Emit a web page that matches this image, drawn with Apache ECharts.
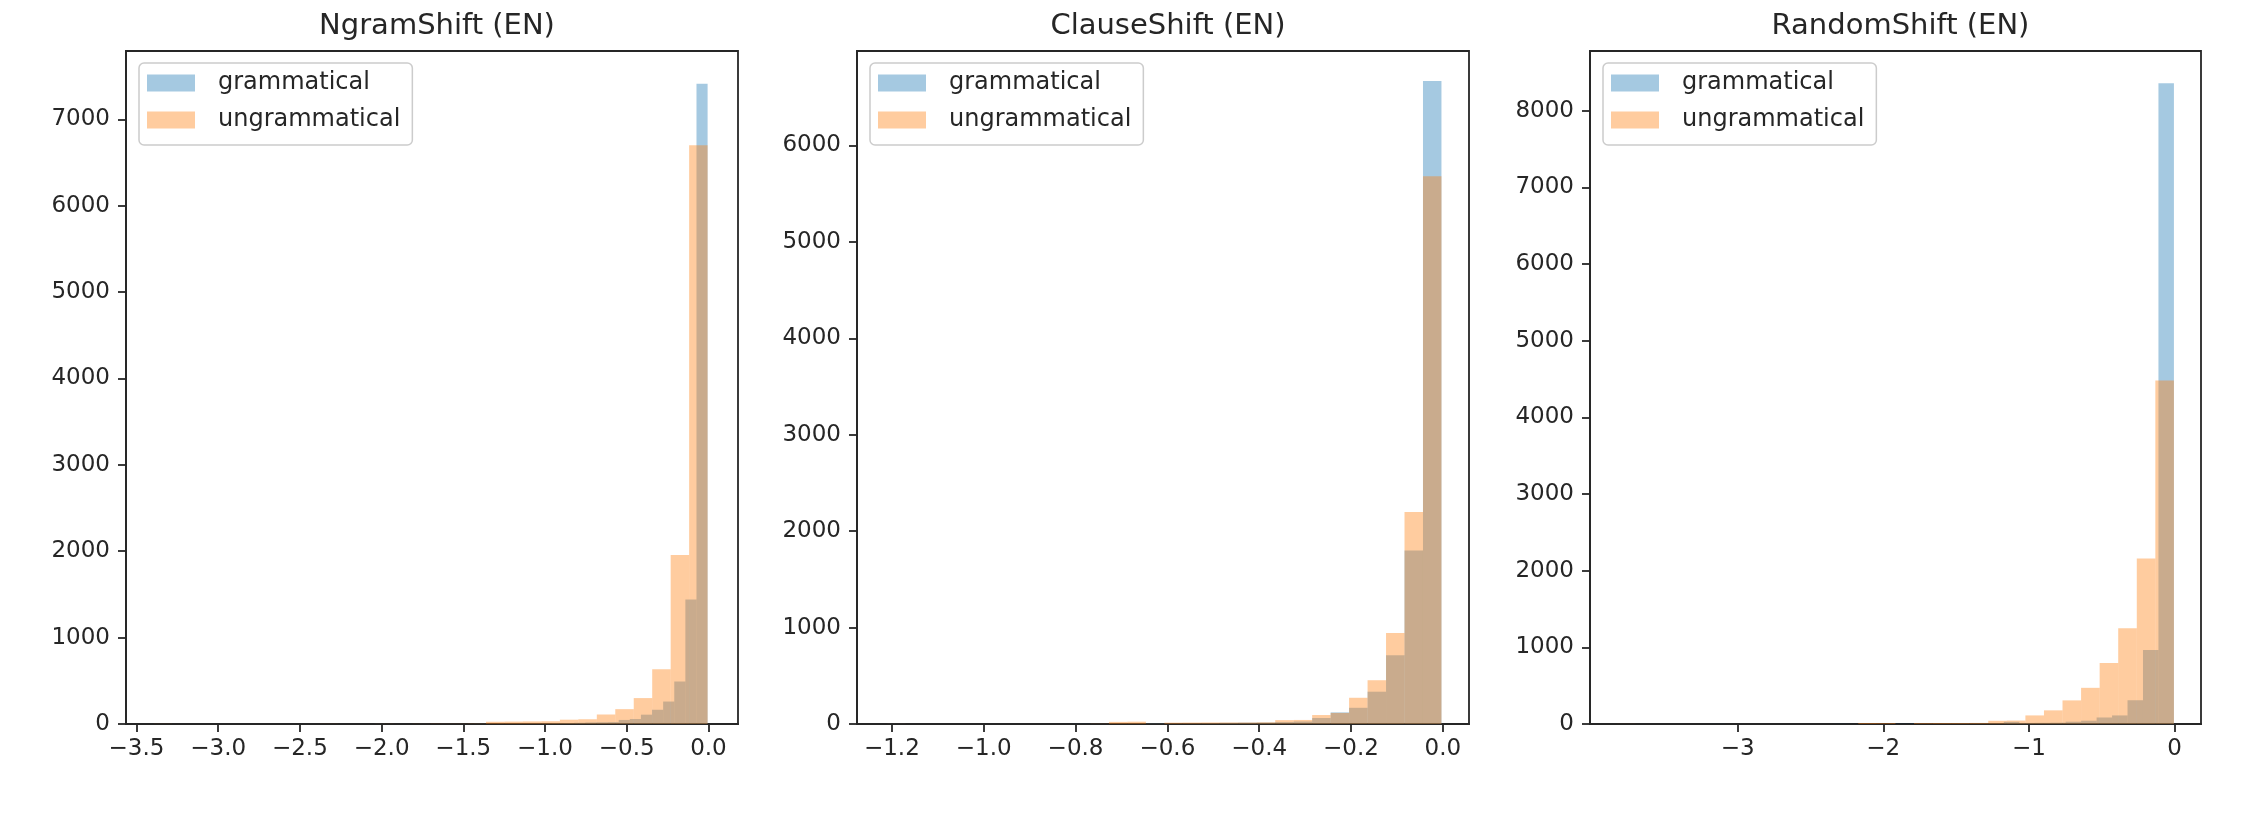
<!DOCTYPE html>
<html><head><meta charset="utf-8">
<script src="https://cdn.jsdelivr.net/npm/echarts@6/dist/echarts.min.js"></script>
<style>html,body{margin:0;padding:0;background:#fff}#chart{width:2250px;height:818px}</style>
</head><body><div id="chart"></div>
<script>
// ---------------- data ----------------
const seriesNames = ['grammatical', 'ungrammatical'];
const panelTitles = ['NgramShift (EN)', 'ClauseShift (EN)', 'RandomShift (EN)'];

// each histogram: 30 equal-width bins over [min, max]
const ngramGramRange = [-2.045, -0.005];
const ngramGramCounts = [1,0,0,0,1,0,1,1,1,2,2,3,3,4,5,6,8,10,14,18,20,22,47,58,108,165,260,492,1440,7410];
const ngramUngramRange = [-3.395, -0.005];
const ngramUngramCounts = [1,0,0,0,0,0,0,0,0,1,0,0,1,0,1,2,2,3,26,28,30,32,50,55,110,172,300,635,1955,6700];

const clauseGramRange = [-1.21, -0.003];
const clauseGramCounts = [1,0,0,0,0,0,0,0,0,0,1,1,2,3,4,5,6,8,12,14,15,20,26,62,120,168,335,712,1800,6670];
const clauseUngramRange = [-1.21, -0.003];
const clauseUngramCounts = [1,0,0,0,0,0,0,0,0,0,0,2,22,24,2,14,15,16,16,16,18,40,42,93,115,272,454,945,2200,5680];

const randomGramRange = [-3.19, -0.004];
const randomGramCounts = [1,0,0,0,0,0,0,0,1,0,0,1,1,2,2,3,4,5,8,28,14,15,17,30,43,85,112,310,965,8360];
const randomUngramRange = [-3.829, -0.004];
const randomUngramCounts = [1,0,0,0,0,0,0,0,0,0,0,0,0,13,12,0,12,13,13,14,42,45,112,178,308,472,795,1250,2160,4480];

const ngramXTicks = [-3.5, -3.0, -2.5, -2.0, -1.5, -1.0, -0.5, 0.0];
const clauseXTicks = [-1.2, -1.0, -0.8, -0.6, -0.4, -0.2, 0.0];
const randomXTicks = [-3, -2, -1, 0];
const ngramYTicks = [0, 1000, 2000, 3000, 4000, 5000, 6000, 7000];
const clauseYTicks = [0, 1000, 2000, 3000, 4000, 5000, 6000];
const randomYTicks = [0, 1000, 2000, 3000, 4000, 5000, 6000, 7000, 8000];

// ---------------- layout / style ----------------
const FONT = 'DejaVu Sans';
const TXT = '#262626';
const BLUE = 'rgba(31,119,180,0.4)';
const ORANGE = 'rgba(255,127,14,0.4)';
const panels = [
  { left: 126, width: 612, xlim: [-3.564, 0.181], ymax: 7790, xTicks: ngramXTicks, yTicks: ngramYTicks, dec: 1,
    g: [ngramGramRange, ngramGramCounts], u: [ngramUngramRange, ngramUngramCounts] },
  { left: 857, width: 612, xlim: [-1.276, 0.057], ymax: 6980, xTicks: clauseXTicks, yTicks: clauseYTicks, dec: 1,
    g: [clauseGramRange, clauseGramCounts], u: [clauseUngramRange, clauseUngramCounts] },
  { left: 1590, width: 611, xlim: [-4.014, 0.182], ymax: 8780, xTicks: randomXTicks, yTicks: randomYTicks, dec: 0,
    g: [randomGramRange, randomGramCounts], u: [randomUngramRange, randomUngramCounts] }
];
const TOP = 51, HEIGHT = 673;

function toBins(range, counts) {
  const w = (range[1] - range[0]) / counts.length;
  return counts.map((c, i) => [range[0] + i * w, range[0] + (i + 1) * w, c]);
}
function minusFmt(dec) {
  return v => (v < 0 ? '\u2212' : '') + Math.abs(v).toFixed(dec);
}
function renderBar(params, api) {
  const p0 = api.coord([api.value(0), api.value(2)]);
  const p1 = api.coord([api.value(1), 0]);
  return { type: 'rect', shape: { x: p0[0], y: p0[1], width: p1[0] - p0[0], height: p1[1] - p0[1] },
           style: { fill: api.visual('color') } };
}

const grid = [], xAxis = [], yAxis = [], series = [], title = [], legend = [];
const lineStyle = { color: TXT, width: 1.8 };
panels.forEach((p, i) => {
  grid.push({ left: p.left, top: TOP, width: p.width, height: HEIGHT, show: true,
              borderColor: TXT, borderWidth: 1.8, backgroundColor: 'transparent' });
  xAxis.push({ type: 'value', gridIndex: i, min: p.xlim[0], max: p.xlim[1],
    axisLine: { show: true, onZero: false, lineStyle },
    axisTick: { show: true, length: 8, lineStyle, customValues: p.xTicks },
    axisLabel: { customValues: p.xTicks, formatter: minusFmt(p.dec), fontSize: 23, fontFamily: FONT,
                 color: TXT, margin: 14, hideOverlap: false },
    splitLine: { show: false } });
  yAxis.push({ type: 'value', gridIndex: i, min: 0, max: p.ymax,
    axisLine: { show: true, onZero: false, lineStyle },
    axisTick: { show: true, length: 8, lineStyle, customValues: p.yTicks },
    axisLabel: { customValues: p.yTicks, formatter: v => String(Math.round(v)), fontSize: 23, fontFamily: FONT,
                 color: TXT, margin: 16, hideOverlap: false },
    splitLine: { show: false } });
  series.push({ type: 'custom', name: seriesNames[0], xAxisIndex: i, yAxisIndex: i,
    itemStyle: { color: BLUE }, renderItem: renderBar, encode: { x: [0, 1], y: 2 },
    data: toBins(p.g[0], p.g[1]) });
  series.push({ type: 'custom', name: seriesNames[1], xAxisIndex: i, yAxisIndex: i,
    itemStyle: { color: ORANGE }, renderItem: renderBar, encode: { x: [0, 1], y: 2 },
    data: toBins(p.u[0], p.u[1]) });
  title.push({ text: panelTitles[i], left: p.left + p.width / 2, top: 7, textAlign: 'center',
    textStyle: { fontSize: 29, fontWeight: 'normal', color: TXT, fontFamily: FONT } });
  legend.push({ left: p.left + 13, top: 63, orient: 'vertical', icon: 'rect',
    itemWidth: 48, itemHeight: 17, itemGap: 13, padding: [8, 12, 13, 8],
    backgroundColor: 'rgba(255,255,255,0.8)', borderColor: '#cccccc', borderWidth: 1.5, borderRadius: 5,
    selectedMode: false,
    textStyle: { fontSize: 24, color: TXT, fontFamily: FONT, padding: [0, 0, 0, 18] },
    data: [{ name: seriesNames[0], itemStyle: { color: BLUE } },
           { name: seriesNames[1], itemStyle: { color: ORANGE } }] });
});

const chart = echarts.init(document.getElementById('chart'), null, { renderer: 'canvas' });
chart.setOption({ animation: false, backgroundColor: '#ffffff', title, legend, grid, xAxis, yAxis, series });
</script></body></html>
